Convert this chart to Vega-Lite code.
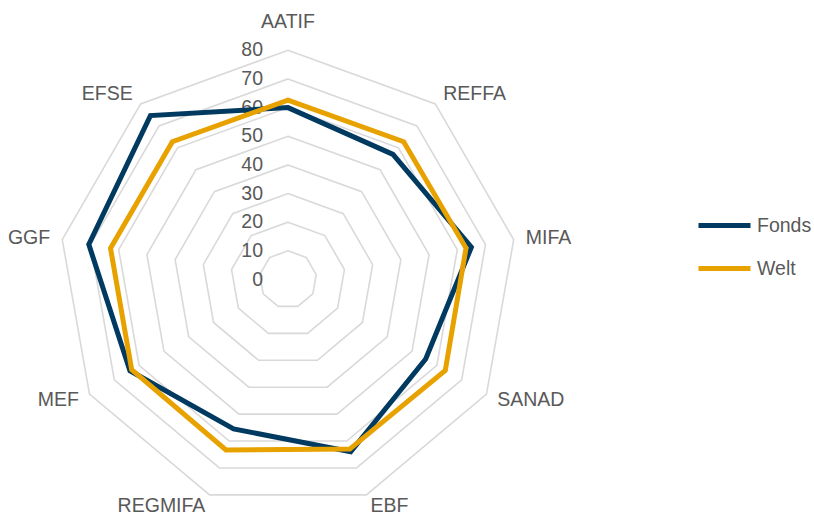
{
  "$schema": "https://vega.github.io/schema/vega-lite/v6.json",
  "width": 814,
  "height": 516,
  "autosize": "none",
  "padding": 0,
  "background": "white",
  "config": {"view": {"stroke": null}, "font": "Liberation Sans"},
  "datasets": {
    "scores": [
      {"cat": "AATIF", "idx": 0, "series": "Fonds", "value": 60},
      {"cat": "REFFA", "idx": 1, "series": "Fonds", "value": 57},
      {"cat": "MIFA", "idx": 2, "series": "Fonds", "value": 65},
      {"cat": "SANAD", "idx": 3, "series": "Fonds", "value": 55.5},
      {"cat": "EBF", "idx": 4, "series": "Fonds", "value": 64},
      {"cat": "REGMIFA", "idx": 5, "series": "Fonds", "value": 55.5},
      {"cat": "MEF", "idx": 6, "series": "Fonds", "value": 63.7},
      {"cat": "GGF", "idx": 7, "series": "Fonds", "value": 70.6},
      {"cat": "EFSE", "idx": 8, "series": "Fonds", "value": 74.7},
      {"cat": "AATIF", "idx": 0, "series": "Welt", "value": 62.6},
      {"cat": "REFFA", "idx": 1, "series": "Welt", "value": 62.8},
      {"cat": "MIFA", "idx": 2, "series": "Welt", "value": 63.1},
      {"cat": "SANAD", "idx": 3, "series": "Welt", "value": 63.4},
      {"cat": "EBF", "idx": 4, "series": "Welt", "value": 63},
      {"cat": "REGMIFA", "idx": 5, "series": "Welt", "value": 63.3},
      {"cat": "MEF", "idx": 6, "series": "Welt", "value": 63},
      {"cat": "GGF", "idx": 7, "series": "Welt", "value": 62.9},
      {"cat": "EFSE", "idx": 8, "series": "Welt", "value": 62.8}
    ],
    "rings": [
      {"level": 10, "k": [0, 1, 2, 3, 4, 5, 6, 7, 8]},
      {"level": 20, "k": [0, 1, 2, 3, 4, 5, 6, 7, 8]},
      {"level": 30, "k": [0, 1, 2, 3, 4, 5, 6, 7, 8]},
      {"level": 40, "k": [0, 1, 2, 3, 4, 5, 6, 7, 8]},
      {"level": 50, "k": [0, 1, 2, 3, 4, 5, 6, 7, 8]},
      {"level": 60, "k": [0, 1, 2, 3, 4, 5, 6, 7, 8]},
      {"level": 70, "k": [0, 1, 2, 3, 4, 5, 6, 7, 8]},
      {"level": 80, "k": [0, 1, 2, 3, 4, 5, 6, 7, 8]}
    ],
    "ticks": [
      {"level": 0}, {"level": 10}, {"level": 20}, {"level": 30}, {"level": 40},
      {"level": 50}, {"level": 60}, {"level": 70}, {"level": 80}
    ],
    "cats": [
      {"cat": "AATIF", "idx": 0}, {"cat": "REFFA", "idx": 1}, {"cat": "MIFA", "idx": 2},
      {"cat": "SANAD", "idx": 3}, {"cat": "EBF", "idx": 4}, {"cat": "REGMIFA", "idx": 5},
      {"cat": "MEF", "idx": 6}, {"cat": "GGF", "idx": 7}, {"cat": "EFSE", "idx": 8}
    ]
  },
  "encoding": {
    "x": {"type": "quantitative", "scale": {"domain": [-100.52, 183.6], "nice": false, "zero": false}, "axis": null},
    "y": {"type": "quantitative", "scale": {"domain": [-82.55, 97.56], "nice": false, "zero": false}, "axis": null}
  },
  "layer": [
    {
      "data": {"name": "rings"},
      "transform": [
        {"flatten": ["k"]},
        {"calculate": "datum.level * sin(datum.k * 2 * PI / 9)", "as": "px"},
        {"calculate": "datum.level * cos(datum.k * 2 * PI / 9)", "as": "py"}
      ],
      "mark": {"type": "line", "interpolate": "linear-closed", "stroke": "#D9D9D9", "strokeWidth": 1.6},
      "encoding": {
        "x": {"field": "px", "type": "quantitative"},
        "y": {"field": "py", "type": "quantitative"},
        "detail": {"field": "level"},
        "order": {"field": "k"}
      }
    },
    {
      "data": {"name": "ticks"},
      "mark": {"type": "text", "align": "right", "baseline": "middle", "dx": -25, "fontSize": 19.5, "color": "#595959"},
      "encoding": {
        "x": {"datum": 0, "type": "quantitative"},
        "y": {"field": "level", "type": "quantitative"},
        "text": {"field": "level"}
      }
    },
    {
      "data": {"name": "cats"},
      "transform": [
        {"calculate": "84.3 * sin(datum.idx * 2 * PI / 9)", "as": "lx"},
        {"calculate": "84.3 * cos(datum.idx * 2 * PI / 9)", "as": "ly"},
        {"filter": "datum.idx == 0"}
      ],
      "mark": {"type": "text", "align": "center", "baseline": "middle", "dy": -16, "fontSize": 19.5, "color": "#595959"},
      "encoding": {
        "x": {"field": "lx", "type": "quantitative"},
        "y": {"field": "ly", "type": "quantitative"},
        "text": {"field": "cat"}
      }
    },
    {
      "data": {"name": "cats"},
      "transform": [
        {"calculate": "84.3 * sin(datum.idx * 2 * PI / 9)", "as": "lx"},
        {"calculate": "84.3 * cos(datum.idx * 2 * PI / 9)", "as": "ly"},
        {"filter": "datum.idx >= 1 && datum.idx <= 4"}
      ],
      "mark": {"type": "text", "align": "left", "baseline": "middle", "fontSize": 19.5, "color": "#595959"},
      "encoding": {
        "x": {"field": "lx", "type": "quantitative"},
        "y": {"field": "ly", "type": "quantitative"},
        "text": {"field": "cat"}
      }
    },
    {
      "data": {"name": "cats"},
      "transform": [
        {"calculate": "84.3 * sin(datum.idx * 2 * PI / 9)", "as": "lx"},
        {"calculate": "84.3 * cos(datum.idx * 2 * PI / 9)", "as": "ly"},
        {"filter": "datum.idx >= 5"}
      ],
      "mark": {"type": "text", "align": "right", "baseline": "middle", "fontSize": 19.5, "color": "#595959"},
      "encoding": {
        "x": {"field": "lx", "type": "quantitative"},
        "y": {"field": "ly", "type": "quantitative"},
        "text": {"field": "cat"}
      }
    },
    {
      "data": {"name": "scores"},
      "transform": [
        {"calculate": "datum.value * sin(datum.idx * 2 * PI / 9)", "as": "px"},
        {"calculate": "datum.value * cos(datum.idx * 2 * PI / 9)", "as": "py"}
      ],
      "mark": {"type": "line", "interpolate": "linear-closed", "strokeWidth": 5, "strokeJoin": "miter"},
      "encoding": {
        "x": {"field": "px", "type": "quantitative"},
        "y": {"field": "py", "type": "quantitative"},
        "color": {
          "field": "series",
          "type": "nominal",
          "scale": {"domain": ["Fonds", "Welt"], "range": ["#003A60", "#E8A200"]},
          "legend": {
            "title": null,
            "orient": "none",
            "legendX": 696,
            "legendY": 197,
            "padding": 0,
            "symbolType": "stroke",
            "symbolSize": 2704,
            "symbolStrokeWidth": 5,
            "labelFontSize": 19.5,
            "labelColor": "#595959",
            "labelFont": "Liberation Sans",
            "labelOffset": 4,
            "rowPadding": 4
          }
        },
        "order": {"field": "idx"}
      }
    }
  ]
}
